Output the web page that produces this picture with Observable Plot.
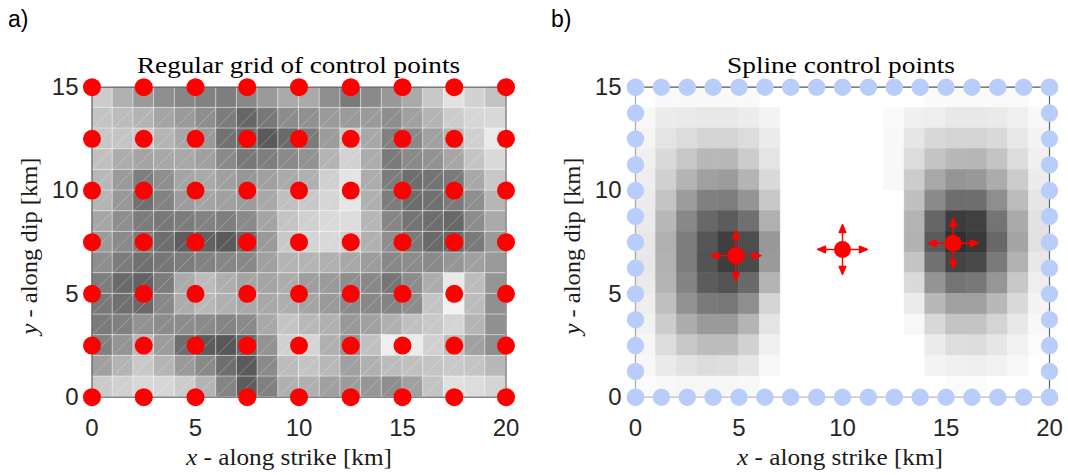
<!DOCTYPE html>
<html><head><meta charset="utf-8">
<script src="https://cdn.jsdelivr.net/npm/d3@7"></script>
<script src="https://cdn.jsdelivr.net/npm/@observablehq/plot@0.6"></script>
<style>
body{margin:0;background:#fff;}
#wrap{display:flex;width:1068px;height:475px;overflow:hidden;}
#wrap svg{display:block;flex:none;}
</style></head><body><div id="wrap"></div>
<script>
// ---------- data ----------
const xDomain = [0, 20];
const yDomain = [0, 15];
const xTicks = [0, 5, 10, 15, 20];
const yTicks = [0, 5, 10, 15];
const ctrlX = [0, 2.5, 5, 7.5, 10, 12.5, 15, 17.5, 20];
const ctrlY = [0, 2.5, 5, 7.5, 10, 12.5, 15];
const edgeX = [0, 1.25, 2.5, 3.75, 5, 6.25, 7.5, 8.75, 10, 11.25, 12.5, 13.75, 15, 16.25, 17.5, 18.75, 20];
const edgeY = [0, 1.25, 2.5, 3.75, 5, 6.25, 7.5, 8.75, 10, 11.25, 12.5, 13.75, 15];
const splineX = [4.85, 10, 15.35];
const splineY = [6.85, 7.15, 7.45];
const arrowDirs = [0, 90, 180, 270];
const titleA = "Regular grid of control points";
const titleB = "Spline control points";
const panelA = "a)";
const panelB = "b)";
const xLabel = [["x", true], [" - along strike [km]", false]];
const yLabel = [["y", true], [" - along dip [km]", false]];

// grey level (0-255) of each 1 km cell, top row (14-15 km) first, x = 0..20
const gridA = [
 [204,176,154,142,134,130,126,136,154,170,170,142,122,138,153,170,200,226,210,194],
 [196,188,180,164,154,142,124,102,120,140,144,154,154,154,142,160,180,204,214,216],
 [198,196,200,180,168,154,114,104, 90,106,122,156,200,168,128,138,160,180,208,234],
 [192,172,164,168,168,160,138,120,126,138,146,180,210,172,122,138,146,166,196,218],
 [184,154,126,142,164,170,160,150,160,170,176,208,228,172,124,110,116,122,168,200],
 [180,152,112,130,156,164,160,156,168,192,200,214,230,176,124,108,112,122,142,182],
 [166,142,124,120,124,130,126,138,164,196,208,218,220,182,134,116,110,104,140,170],
 [154,138,122,110, 94, 98, 90,106,154,200,212,216,208,176,142,122,106,102,122,154],
 [142,124,112,118,124,130,134,136,160,180,180,176,168,156,136,140,138,150,160,154],
 [126,106, 98,124,170,188,174,164,164,172,158,154,142,136,118,140,172,232,188,149],
 [120,112,106,136,172,184,176,168,168,174,164,154,138,136,132,140,196,242,188,144],
 [122,128,146,140,140,138,132,138,168,196,184,176,152,160,176,192,200,212,180,144],
 [128,148,184,156,110, 92, 88,100,146,208,212,176,146,192,238,236,208,188,160,142],
 [160,180,200,180,154,138,110, 90,138,188,196,184,160,176,188,192,196,200,196,184],
 [202,208,216,214,204,180,132, 92,128,176,176,160,156,150,142,160,196,224,220,212]
];
const gridB = [
 [255,249,249,249,249,249,255,255,255,255,255,255,255,255,250,250,250,250,250,255],
 [248,236,234,232,232,236,244,255,255,255,255,255,250,240,238,232,232,234,240,248],
 [244,228,220,212,212,220,236,255,255,255,255,255,248,230,216,212,212,218,232,244],
 [240,218,200,184,184,204,228,255,255,255,255,255,248,220,196,184,182,196,220,240],
 [238,208,180,160,156,180,218,255,255,255,255,255,248,204,168,149,152,172,204,236],
 [236,196,156,128,126,148,200,255,255,255,255,255,255,192,138,110,110,142,188,230],
 [234,184,136,104, 92,112,176,255,255,255,255,255,255,180,102, 60, 64,116,170,226],
 [232,176,124, 86, 63, 77,152,255,255,255,255,255,255,178, 90, 48, 56,104,164,225],
 [232,178,124, 84, 62, 74,154,255,255,255,255,255,255,196,114, 68, 72,122,178,232],
 [234,180,132, 92, 84,106,180,255,255,255,255,255,255,218,148,116,120,150,200,238],
 [238,192,146,122,120,142,212,255,255,255,255,255,255,236,184,160,160,184,218,244],
 [242,204,172,154,154,180,228,255,255,255,255,255,255,248,216,196,196,212,232,248],
 [246,220,200,188,188,210,240,255,255,255,255,255,255,255,236,222,220,230,242,251],
 [248,234,226,220,222,230,248,255,255,255,255,255,255,255,244,240,238,242,248,255],
 [251,248,246,246,246,248,255,255,255,255,255,255,255,255,255,251,251,255,255,255]
];

// ---------- derived tables ----------
const gray = v => `rgb(${v},${v},${v})`;
const toCells = g => g.flatMap((row, r) => row.map((v, c) => ({x1: c, x2: c + 1, y1: yDomain[1] - 1 - r, y2: yDomain[1] - r, v})));
const cellsA = toCells(gridA);
const cellsB = toCells(gridB).filter(d => d.v < 255);
const diagA = cellsA.filter(d => d.y2 < yDomain[1] && d.x2 < xDomain[1]);
const ctrlPts = ctrlY.flatMap(y => ctrlX.map(x => ({x, y})));
const edgePts = [
  ...edgeX.map(x => ({x, y: yDomain[0]})), ...edgeX.map(x => ({x, y: yDomain[1]})),
  ...edgeY.map(y => ({x: xDomain[0], y})), ...edgeY.map(y => ({x: xDomain[1], y}))
];
const splinePts = splineX.map((x, i) => ({x, y: splineY[i]}));
const arrows = splinePts.flatMap(p => arrowDirs.map(rot => ({...p, rot})));

const arrowShape = {
  draw(ctx, l) {
    ctx.moveTo(0, 0); ctx.lineTo(0, -l + 5);
    ctx.moveTo(0, -l); ctx.lineTo(-3.3, -l + 8); ctx.lineTo(3.3, -l + 8); ctx.closePath();
  }
};

const W_A = 545, W_B = 523, H = 475;
const common = {
  height: H, marginTop: 86.7, marginBottom: 78.3,
  x: {domain: xDomain}, y: {domain: yDomain},
  style: {fontFamily: "'Liberation Sans', Arial, sans-serif", fontSize: "24px", color: "#262626", background: "white", overflow: "visible"}
};
const axes = (py) => [
  Plot.axisX(xTicks, {tickSize: 0, tickPadding: 22, fontSize: 24, label: null, fill: "#262626"}),
  Plot.axisY(yTicks, {tickSize: 0, tickPadding: py, fontSize: 24, label: null, fill: "#262626"})
];

const svgA = Plot.plot({
  ...common, width: W_A, marginLeft: 91.5, marginRight: W_A - 505.5,
  marks: [
    Plot.rect(cellsA, {x1: "x1", x2: "x2", y1: "y1", y2: "y2", fill: d => gray(d.v)}),
    Plot.rect(cellsA, {x1: "x1", x2: "x2", y1: "y1", y2: "y2", fill: "none", stroke: "white", strokeOpacity: 0.25, strokeWidth: 1}),
    Plot.link(diagA, {x1: "x1", y1: "y1", x2: "x2", y2: "y2", stroke: "white", strokeOpacity: 0.38, strokeWidth: 0.7}),
    Plot.frame({stroke: "#666", strokeWidth: 1.2}),
    ...axes(13.5),
    Plot.dot(ctrlPts, {x: "x", y: "y", r: 9, fill: "#ff0000"})
  ]
});

const svgB = Plot.plot({
  ...common, width: W_B, marginLeft: 635 - W_A, marginRight: W_B - (1049 - W_A),
  marks: [
    Plot.rect(cellsB, {x1: "x1", x2: "x2", y1: "y1", y2: "y2", fill: d => gray(d.v), stroke: d => gray(d.v), strokeWidth: 0.5}),
    Plot.ruleX([xDomain[0]], {stroke: "#aaa", strokeWidth: 1.2}),
    Plot.ruleY([yDomain[0]], {stroke: "#bbb", strokeWidth: 1.2}),
    Plot.ruleX([xDomain[1]], {stroke: "#666", strokeWidth: 1.2}),
    Plot.ruleY([yDomain[1]], {stroke: "#555", strokeWidth: 1.2}),
    ...axes(14),
    Plot.dot(edgePts, {x: "x", y: "y", r: 8.7, fill: "#b9cdfb"}),
    Plot.vector(arrows, {x: "x", y: "y", rotate: "rot", length: 25, anchor: "start", shape: arrowShape, stroke: "#ff0000", fill: "#ff0000", strokeWidth: 1.4}),
    Plot.dot(splinePts, {x: "x", y: "y", r: 8.5, fill: "#ff0000"})
  ]
});

function addText(svg, {x, y, rotate = 0, parts, size, family, anchor = "middle", length, fill = "#000"}) {
  const t = d3.select(svg).append("text")
    .attr("transform", `translate(${x},${y}) rotate(${rotate})`)
    .attr("text-anchor", anchor).attr("font-family", family)
    .attr("font-size", size).attr("fill", fill);
  if (length) t.attr("textLength", length).attr("lengthAdjust", "spacingAndGlyphs");
  parts.forEach(([s, it]) => t.append("tspan").attr("font-style", it ? "italic" : null).text(s));
}
const serif = "'Liberation Serif', 'Times New Roman', serif";
const sans = "'Liberation Sans', Arial, sans-serif";

addText(svgA, {x: 298.5, y: 73, parts: [[titleA, false]], size: 24, family: serif, length: 323});
addText(svgA, {x: 289, y: 465, parts: xLabel, size: 23, family: serif, length: 206, fill: "#1a1a1a"});
addText(svgA, {x: 37, y: 246, rotate: -90, parts: yLabel, size: 23, family: serif, length: 177, fill: "#1a1a1a"});
addText(svgA, {x: 8, y: 27, parts: [[panelA, false]], size: 23, family: sans, anchor: "start"});

const ox = W_A;
addText(svgB, {x: 841 - ox, y: 73, parts: [[titleB, false]], size: 24, family: serif, length: 228});
addText(svgB, {x: 840 - ox, y: 465, parts: xLabel, size: 23, family: serif, length: 206, fill: "#1a1a1a"});
addText(svgB, {x: 580 - ox, y: 246, rotate: -90, parts: yLabel, size: 23, family: serif, length: 177, fill: "#1a1a1a"});
addText(svgB, {x: 551 - ox, y: 27, parts: [[panelB, false]], size: 23, family: sans, anchor: "start"});

document.getElementById("wrap").append(svgA, svgB);
</script></body></html>
